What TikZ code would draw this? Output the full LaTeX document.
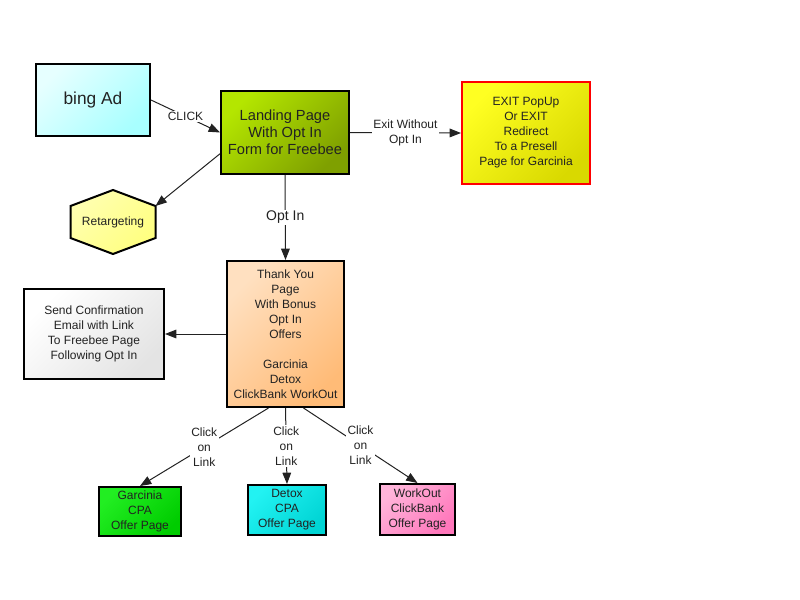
\documentclass[tikz,border=0pt]{standalone}
\usepackage{fontspec}
\setmainfont{Liberation Sans}
\usetikzlibrary{calc, arrows.meta}

\definecolor{ink}{HTML}{222222}
\definecolor{bingA}{HTML}{E6FFFF}
\definecolor{bingB}{HTML}{A8FFFF}
\definecolor{landA}{HTML}{B4E600}
\definecolor{landB}{HTML}{7FA000}
\definecolor{exitA}{HTML}{FFFF22}
\definecolor{exitB}{HTML}{D9D900}
\definecolor{retA}{HTML}{FFFFB0}
\definecolor{retB}{HTML}{FFFF80}
\definecolor{thankA}{HTML}{FFE0C0}
\definecolor{thankB}{HTML}{FFBB77}
\definecolor{sendA}{HTML}{FFFFFF}
\definecolor{sendB}{HTML}{E4E4E4}
\definecolor{garcA}{HTML}{22EE22}
\definecolor{garcB}{HTML}{00CC00}
\definecolor{detoxA}{HTML}{22F2F2}
\definecolor{detoxB}{HTML}{00D4D4}
\definecolor{workA}{HTML}{FFB4DA}
\definecolor{workB}{HTML}{FF77BB}

\begin{document}
\begin{tikzpicture}[>={Triangle[length=8.5pt,width=6.5pt]}, x=0.75pt, y=-0.75pt]

  % Styles for the funnel boxes and their links
  \tikzset{
    flowbox/.style={draw=black, line width=1.5pt, align=center, inner sep=0pt,
      text=ink, font=\fontsize{9}{11.25}\selectfont},
    shadebox/.style 2 args={top color=#1, bottom color=#2, shading angle=45},
    link/.style={->, line width=0.75pt, draw=ink},
    linklabel/.style={fill=white, inner sep=1pt, align=center, text=ink,
      font=\fontsize{9}{11.25}\selectfont}
  }

  \useasboundingbox (0,0) rectangle (800,600);

  % 1. Retargeting hexagon corners
  \coordinate (rt) at (113,222);
  \coordinate (rtn) at ($(rt)+(0,-32)$);
  \coordinate (rtne) at ($(rt)+(42.5,-16)$);
  \coordinate (rtse) at ($(rt)+(42.5,16)$);
  \coordinate (rts) at ($(rt)+(0,32)$);
  \coordinate (rtsw) at ($(rt)+(-42.5,16)$);
  \coordinate (rtnw) at ($(rt)+(-42.5,-16)$);

  % --- BOXES ---
  \node[flowbox, shadebox={bingA}{bingB}, minimum width=85.5pt, minimum height=54pt,
    font=\fontsize{13}{15}\selectfont] (bing) at (93,100) {bing Ad};
  \node[flowbox, shadebox={landA}{landB}, minimum width=96pt, minimum height=62.25pt,
    font=\fontsize{11}{12.75}\selectfont] (landing) at (285,132.5)
    {Landing Page\\With Opt In\\Form for Freebee};
  \node[flowbox, draw=red, shadebox={exitA}{exitB}, minimum width=96pt, minimum height=76.5pt]
    (exit) at (526,133) {EXIT PopUp\\Or EXIT\\Redirect\\To a Presell\\Page for Garcinia};

  \filldraw[line width=1.5pt, draw=black, shadebox={retA}{retB}]
    (rtn) -- (rtne) -- (rtse) -- (rts) -- (rtsw) -- (rtnw) -- cycle;
  \node[text=ink, font=\fontsize{9}{11.25}\selectfont] (retarget) at (rt) {Retargeting};

  \node[flowbox, shadebox={thankA}{thankB}, minimum width=87.75pt, minimum height=109.5pt]
    (thanks) at (285.5,334)
    {Thank You\\Page\\With Bonus\\Opt In\\Offers\\[11.25pt]Garcinia\\Detox\\ClickBank WorkOut};
  \node[flowbox, shadebox={sendA}{sendB}, minimum width=105pt, minimum height=67.5pt]
    (send) at (94,334) {Send Confirmation\\Email with Link\\To Freebee Page\\Following Opt In};

  \node[flowbox, shadebox={garcA}{garcB}, minimum width=61.5pt, minimum height=36.75pt]
    (garcinia) at (140,511.5) {Garcinia\\CPA\\Offer Page};
  \node[flowbox, shadebox={detoxA}{detoxB}, minimum width=58.5pt, minimum height=37.5pt]
    (detox) at (287,510) {Detox\\CPA\\Offer Page};
  \node[flowbox, shadebox={workA}{workB}, minimum width=56.25pt, minimum height=38.25pt]
    (workout) at (417.5,509.5) {WorkOut\\ClickBank\\Offer Page};

  % --- LINKS ---
  \draw[link] (bing.east) -- node[linklabel] {CLICK} (landing.west);
  \draw[link] (landing.east) -- node[linklabel] {Exit Without\\Opt In} (exit.west);
  \draw[link] ($(landing.west)!0.5!(landing.south west)$) -- (rtne);
  \draw[link] (landing.south) -- node[linklabel, font=\fontsize{10.5}{12.75}\selectfont] {Opt In} (thanks.north);
  \draw[link] (thanks.west) -- (send.east);

  % Offer links below the thank you page
  \draw[link] ($(thanks.south)+(-17,0)$) -- node[linklabel] {Click\\on\\Link} (garcinia.north);
  \draw[link] (thanks.south) -- node[linklabel] {Click\\on\\Link} (detox.north);
  \draw[link] ($(thanks.south)+(18,0)$) -- node[linklabel] {Click\\on\\Link} (workout.north);

\end{tikzpicture}
\end{document}
